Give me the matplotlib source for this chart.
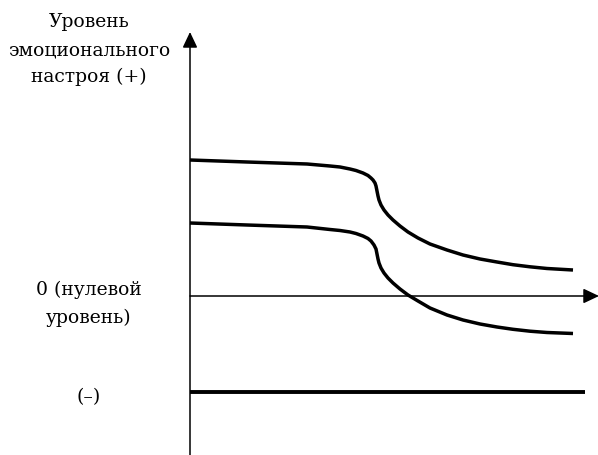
import numpy as np
import matplotlib.pyplot as plt

# Схема: уровень эмоционального настроя (условные единицы, начало координат на пересечении осей)
upper_x = [0, 57, 117, 140, 150, 160, 166, 173, 178, 181, 183, 185, 186, 187, 188, 189,
           191, 194, 198, 203, 210, 218, 228, 240, 257, 273, 290, 307, 323, 340, 357, 383]
upper_y = [136, 134, 132, 130, 129, 127, 125.5, 123, 120.5, 118, 116, 113, 110, 105, 100, 96,
           91, 86, 81, 76, 70, 64, 58, 52, 46, 41, 37, 34, 31.3, 29.2, 27.5, 26]

lower_x = [0, 57, 117, 140, 150, 160, 166, 173, 178, 181, 184, 186, 187, 188, 189,
           191, 194, 198, 203, 210, 218, 228, 240, 257, 273, 290, 307, 323, 340, 357, 383]
lower_y = [73, 71, 69, 66.5, 65.5, 64, 62.5, 60, 57.5, 55, 51, 47, 42, 37, 33,
           28, 23, 18, 13, 7, 1, -5, -12, -19, -24, -28, -31, -33.3, -35.2, -36.5, -37.5]

neg_x = [0, 395]
neg_y = [-96, -96]

# подписи оси (текст, x, базовая линия)
labels = [
    ("Уровень", -101, 270),
    ("эмоционального", -101, 242),
    ("настроя (+)", -101, 215),
    ("0 (нулевой", -101, 2),
    ("уровень)", -101, -26),
    ("(–)", -101, -105),
]

plt.rcParams['font.family'] = ['DejaVu Serif']

fig = plt.figure(figsize=(5.98, 4.56), dpi=100)
ax = fig.add_axes([0, 0, 1, 1])
ax.set_xlim(-190, 408)
ax.set_ylim(-159, 297)
ax.axis('off')

# оси со стрелками
arrow = dict(arrowstyle='-|>,head_length=0.95,head_width=0.45', lw=1.1,
             color='black', shrinkA=0, shrinkB=0)
ax.annotate('', xy=(0, 264), xytext=(0, -159), arrowprops=arrow, annotation_clip=False)
ax.annotate('', xy=(409, 0), xytext=(0, 0), arrowprops=arrow, annotation_clip=False)

ax.plot(upper_x, upper_y, color='black', lw=2.5, solid_joinstyle='round', solid_capstyle='butt')
ax.plot(lower_x, lower_y, color='black', lw=2.5, solid_joinstyle='round', solid_capstyle='butt')
ax.plot(neg_x, neg_y, color='black', lw=2.8, solid_capstyle='butt')

for txt, x, y in labels:
    ax.text(x, y, txt, ha='center', va='baseline', fontsize=13.5)

fig.savefig('out.png', dpi=100)
